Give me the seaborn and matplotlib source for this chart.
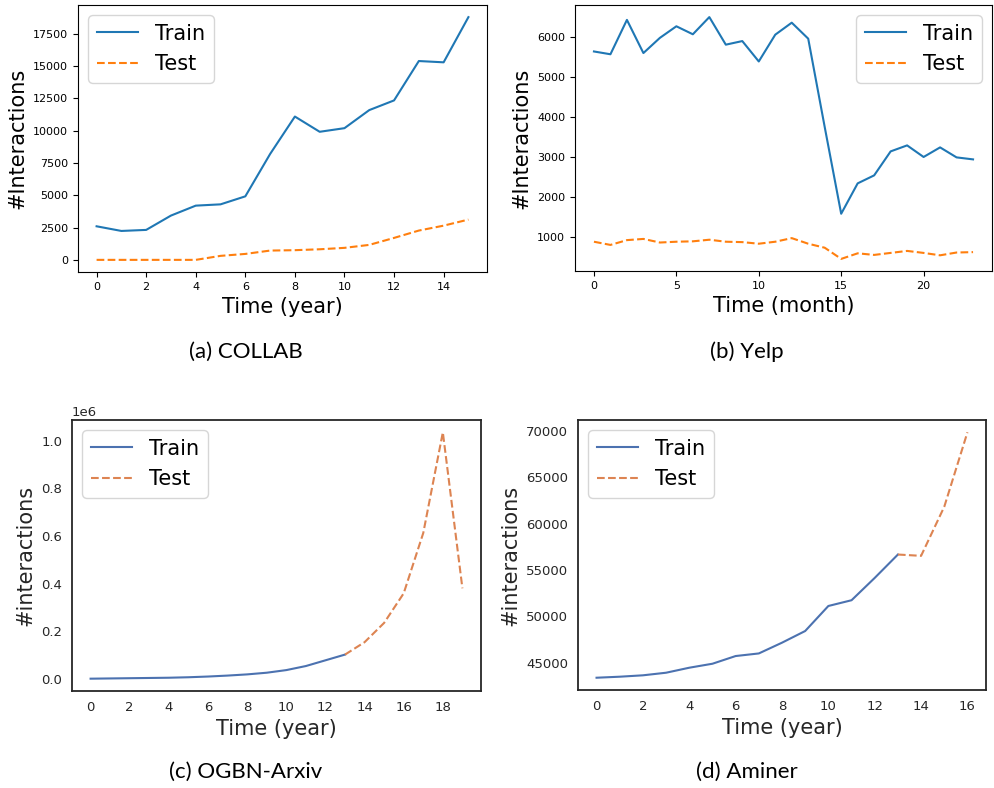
import numpy as np
import pandas as pd
import matplotlib
matplotlib.use("Agg")
import matplotlib.pyplot as plt
import seaborn as sns

# (a) COLLAB, yearly
collab_x = list(range(16))
collab_train = [2600, 2240, 2320, 3430, 4200, 4300, 4920, 8200, 11100, 9920,
                10200, 11600, 12350, 15400, 15300, 18800]
collab_test = [0, 0, 0, 0, 0, 310, 460, 720, 750, 820, 930, 1160, 1700, 2270,
               2650, 3120]

# (b) Yelp, monthly
yelp_x = list(range(24))
yelp_train = [5640, 5570, 6430, 5600, 5980, 6270, 6070, 6500, 5810, 5900, 5390,
              6060, 6360, 5960, 3750, 1580, 2340, 2540, 3140, 3290, 3000, 3240,
              2990, 2940]
yelp_test = [880, 800, 920, 950, 860, 880, 890, 930, 880, 870, 830, 880, 970,
             830, 730, 450, 590, 550, 600, 650, 600, 540, 610, 620]

# (c) OGBN-Arxiv, yearly (train 0-13, test 13-19)
arxiv_train_x = list(range(14))
arxiv_train = [2000, 3000, 4000, 5000, 6000, 8000, 11000, 15000, 20000, 27000,
               38000, 55000, 79000, 103000]
arxiv_test_x = list(range(13, 20))
arxiv_test = [103000, 155000, 236000, 360000, 613000, 1035000, 381000]

# (d) Aminer, yearly (train 0-13, test 13-16)
aminer_train_x = list(range(14))
aminer_train = [43380, 43490, 43640, 43920, 44460, 44890, 45720, 46000, 47160,
                48420, 51120, 51740, 54150, 56670]
aminer_test_x = list(range(13, 17))
aminer_test = [56670, 56530, 61830, 69860]

fig = plt.figure(figsize=(9.94, 7.88), dpi=100)
W, H = 994, 788


def box(l, t, r, b):
    return [l / W, 1 - b / H, (r - l) / W, (b - t) / H]


# top row: plain matplotlib look
ax_a = fig.add_axes(box(78, 5, 487, 272))
sns.lineplot(x=collab_x, y=collab_train, ax=ax_a, color="tab:blue", label="Train")
sns.lineplot(x=collab_x, y=collab_test, ax=ax_a, color="tab:orange",
             linestyle="--", label="Test")
ax_a.set_xticks(range(0, 16, 2))
ax_a.set_xlabel("Time (year)", fontsize=15)
ax_a.set_ylabel("#Interactions", fontsize=15)
ax_a.tick_params(labelsize=8)
ax_a.legend(loc="upper left", fontsize=15)

ax_b = fig.add_axes(box(575, 5, 992, 271))
sns.lineplot(x=yelp_x, y=yelp_train, ax=ax_b, color="tab:blue", label="Train")
sns.lineplot(x=yelp_x, y=yelp_test, ax=ax_b, color="tab:orange",
             linestyle="--", label="Test")
ax_b.set_xticks(range(0, 24, 5))
ax_b.set_xlabel("Time (month)", fontsize=15)
ax_b.set_ylabel("#Interactions", fontsize=15)
ax_b.tick_params(labelsize=8)
ax_b.legend(loc="upper right", fontsize=15)

# bottom row: seaborn white style
pal = sns.color_palette("deep")
with sns.axes_style("white"):
    ax_c = fig.add_axes(box(72, 420, 481, 691))
    ax_d = fig.add_axes(box(578, 420, 986, 690))

sns.lineplot(x=arxiv_train_x, y=arxiv_train, ax=ax_c, color=pal[0], label="Train")
sns.lineplot(x=arxiv_test_x, y=arxiv_test, ax=ax_c, color=pal[1],
             linestyle="--", label="Test")
ax_c.set_xticks(range(0, 20, 2))
ax_c.set_xlim(-0.95, 19.95)

sns.lineplot(x=aminer_train_x, y=aminer_train, ax=ax_d, color=pal[0], label="Train")
sns.lineplot(x=aminer_test_x, y=aminer_test, ax=ax_d, color=pal[1],
             linestyle="--", label="Test")
ax_d.set_xticks(range(0, 17, 2))

for ax in (ax_c, ax_d):
    ax.set_xlabel("Time (year)", fontsize=15, color=".15")
    ax.set_ylabel("#interactions", fontsize=15, color=".15")
    ax.tick_params(labelsize=9.5, colors=".15")
    ax.yaxis.get_offset_text().set_fontsize(9.5)
    for s in ax.spines.values():
        s.set_color(".15")
        s.set_linewidth(1.3)
    ax.legend(loc="upper left", fontsize=15)

captions = [("(a) COLLAB", 246, 352), ("(b) Yelp", 747, 352),
            ("(c) OGBN-Arxiv", 246, 772), ("(d) Aminer", 747, 772)]
for txt, cx, cy in captions:
    fig.text(cx / W, 1 - cy / H, txt, ha="center", va="center",
             fontsize=16, family="Lato")

plt.savefig("out.png", dpi=100)
